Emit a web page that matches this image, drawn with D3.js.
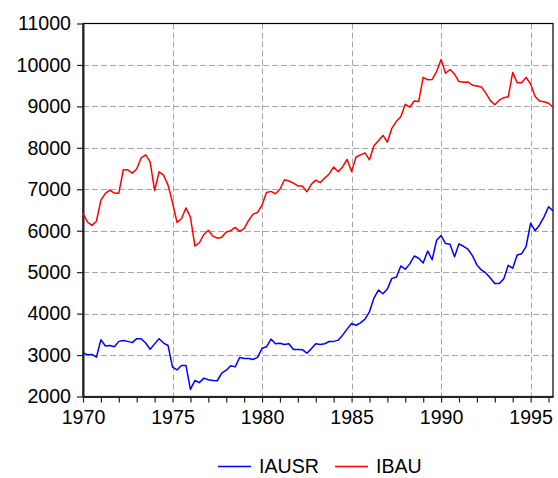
<!DOCTYPE html>
<html>
<head>
<meta charset="utf-8">
<script src="https://cdn.jsdelivr.net/npm/d3@7"></script>
<style>
  html, body { margin: 0; padding: 0; background: #fff; }
  svg { display: block; }
  text { font-family: "Liberation Sans", Arial, sans-serif; }
</style>
</head>
<body>
<svg id="chart" width="558" height="478"></svg>
<script>
// Quarterly observations, 1970Q1 .. 1996Q2
const startYear = 1970;
const seriesNames = ["IAUSR", "IBAU"];
const seriesColors = ["#0000ff", "#ff0000"];

const IAUSR = [
  3050, 3010, 3015, 2950, 3370, 3220, 3230, 3200, 3330, 3350,
  3330, 3300, 3395, 3395, 3290, 3140, 3270, 3395, 3290, 3230,
  2710, 2640, 2750, 2750, 2170, 2385, 2335, 2443, 2405, 2386,
  2380, 2564, 2635, 2741, 2715, 2942, 2918, 2915, 2894, 2945,
  3165, 3200, 3385, 3272, 3287, 3255, 3272, 3135, 3135, 3130,
  3045, 3150, 3272, 3255, 3272, 3327, 3330, 3360, 3480, 3625,
  3762, 3720, 3778, 3867, 4043, 4375, 4568, 4480, 4593, 4850,
  4875, 5150, 5070, 5200, 5390, 5335, 5222, 5512, 5300, 5770,
  5882, 5690, 5675, 5370, 5683, 5625, 5553, 5400, 5175, 5055,
  4982, 4860, 4725, 4725, 4838, 5165, 5093, 5415, 5445, 5625,
  6180, 6000, 6140, 6335, 6577, 6480
];

const IBAU = [
  6420, 6210, 6130, 6230, 6740, 6900, 6980, 6910, 6905, 7470,
  7470, 7390, 7490, 7760, 7830, 7660, 6970, 7420, 7340, 7100,
  6680, 6200, 6290, 6550, 6330, 5630, 5710, 5910, 6010, 5870,
  5820, 5840, 5970, 6000, 6080, 5985, 6050, 6250, 6400, 6440,
  6620, 6920, 6950, 6890, 7000, 7230, 7200, 7150, 7080, 7080,
  6940, 7120, 7220, 7160, 7270, 7370, 7540, 7420, 7540, 7720,
  7430, 7780, 7830, 7880, 7710, 8050, 8170, 8300, 8140, 8470,
  8640, 8750, 9050, 8980, 9130, 9120, 9700, 9640, 9650, 9840,
  10130, 9800, 9890, 9780, 9600, 9580, 9590, 9510, 9490, 9470,
  9320, 9140, 9040, 9150, 9210, 9230, 9820, 9570, 9570, 9700,
  9540, 9240, 9130, 9110, 9075, 8980
];

const xTickYears = [1970, 1971, 1972, 1973, 1974, 1975, 1976, 1977, 1978, 1979,
  1980, 1981, 1982, 1983, 1984, 1985, 1986, 1987, 1988, 1989,
  1990, 1991, 1992, 1993, 1994, 1995, 1996];
const xLabelYears = [1970, 1975, 1980, 1985, 1990, 1995];
const yTicks = [2000, 3000, 4000, 5000, 6000, 7000, 8000, 9000, 10000, 11000];

const svg = d3.select("#chart");
const mLeft = 83, mRight = 553, mTop = 23.5, mBottom = 396.5;
const fontSize = 19.6;

const nObs = IAUSR.length;
const x = d3.scaleLinear().domain([0, nObs - 1]).range([mLeft, mRight]);
const xYear = yr => x((yr - startYear) * 4);
const y = d3.scaleLinear().domain([2000, 11000]).range([mBottom, mTop]);

// grid
const grid = svg.append("g").attr("stroke", "#a6a6a6").attr("stroke-width", 1)
  .attr("stroke-dasharray", "6,3").attr("fill", "none");
xLabelYears.filter(v => v !== 1970).forEach(yr => {
  grid.append("line").attr("x1", Math.round(xYear(yr)) + 0.5).attr("x2", Math.round(xYear(yr)) + 0.5)
    .attr("y1", mTop).attr("y2", mBottom);
});
yTicks.filter(v => v !== 2000 && v !== 11000).forEach(v => {
  grid.append("line").attr("x1", mLeft).attr("x2", mRight)
    .attr("y1", Math.round(y(v)) + 0.5).attr("y2", Math.round(y(v)) + 0.5);
});

// frame
svg.append("rect").attr("x", mLeft).attr("y", mTop).attr("width", mRight - mLeft).attr("height", mBottom - mTop)
  .attr("fill", "none").attr("stroke", "#000").attr("stroke-width", 1.2);

// axes
const xAxis = d3.axisBottom(d3.scaleLinear().domain([startYear, startYear + (nObs - 1) / 4]).range([mLeft, mRight]))
  .tickValues(xTickYears).tickSize(6).tickSizeOuter(0)
  .tickFormat(d => xLabelYears.includes(d) ? String(d) : "");
const gx = svg.append("g").attr("transform", `translate(0,${mBottom})`).call(xAxis);
gx.select(".domain").attr("stroke", "#222").attr("stroke-width", 2);
gx.selectAll(".tick line").attr("stroke", "#222").attr("stroke-width", 1.2);
gx.selectAll(".tick text").attr("font-size", fontSize).attr("fill", "#000").attr("dy", "0.95em")
  .attr("font-family", "Liberation Sans, Arial, sans-serif");

const yAxis = d3.axisLeft(y).tickValues(yTicks).tickSize(6).tickPadding(6).tickSizeOuter(0).tickFormat(d3.format("d"));
const gy = svg.append("g").attr("transform", `translate(${mLeft},0)`).call(yAxis);
gy.select(".domain").attr("stroke", "#222").attr("stroke-width", 2);
gy.selectAll(".tick line").attr("stroke", "#222").attr("stroke-width", 1.2);
gy.selectAll(".tick text").attr("font-size", fontSize).attr("fill", "#000")
  .attr("font-family", "Liberation Sans, Arial, sans-serif");

// lines
const series = [IAUSR, IBAU];
const lineGen = d3.line().x((d, i) => x(i)).y(d => y(d));
series.forEach((s, k) => {
  svg.append("path").datum(s).attr("d", lineGen).attr("fill", "none")
    .attr("stroke", seriesColors[k]).attr("stroke-width", 1.5).attr("stroke-linejoin", "round");
});

// legend
const legendItems = [
  { name: seriesNames[0], color: seriesColors[0], x1: 218, x2: 251, tx: 259 },
  { name: seriesNames[1], color: seriesColors[1], x1: 335, x2: 368, tx: 376 }
];
const lg = svg.append("g");
legendItems.forEach(it => {
  lg.append("line").attr("x1", it.x1).attr("x2", it.x2).attr("y1", 466.5).attr("y2", 466.5)
    .attr("stroke", it.color).attr("stroke-width", 1.5);
  lg.append("text").attr("x", it.tx).attr("y", 466).attr("dy", "0.35em")
    .attr("font-size", fontSize).attr("fill", "#000").text(it.name);
});
</script>
</body>
</html>
